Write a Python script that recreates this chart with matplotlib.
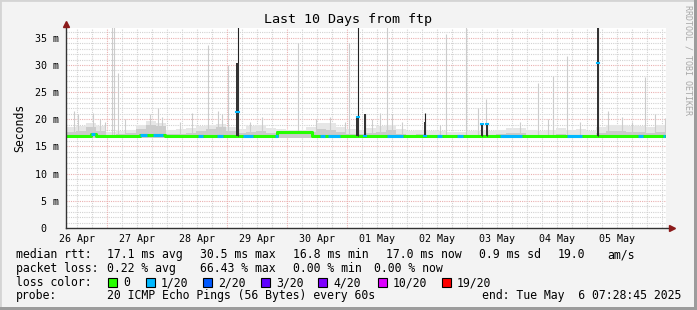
import matplotlib
matplotlib.use('Agg')
import matplotlib.pyplot as plt
from matplotlib.patches import Rectangle
import numpy as np
from datetime import datetime, timedelta

end_time = datetime(2025, 5, 6, 7, 28, 45)
start_time = end_time - timedelta(days=10)
total_h = 240

# median rtt in ms, step changes (hours since start)
med_t = [0, 10.0, 12.0, 29.6, 39.6, 84.4, 98.4, 240]
med_v = [16.9, 17.3, 16.9, 17.2, 16.9, 17.7, 16.9, 16.9]

# periods with 1/20 loss (hours since start)
loss_start = [10.0, 29.6, 34.8, 52.8, 60.4, 70.8, 83.6, 101.6, 104.8, 128.4,
              148.4, 156.4, 173.6, 200.4, 228.8, 238.8]
loss_end = [11.6, 32.4, 38.8, 54.8, 62.8, 74.8, 84.8, 103.6, 109.6, 134.8,
            150.4, 158.8, 182.4, 206.4, 230.8, 239.6]

# smoke envelope, 4 hour bins (ms)
smoke_bin = 4
smoke_hi = [18.6, 18.8, 19.3, 18.8, 17.6, 17.8, 18.0, 19.0, 19.6, 19.4,
            18.0, 18.2, 18.4, 18.8, 19.0, 19.2, 18.6, 18.2, 18.8, 19.0,
            18.4, 18.2, 18.0, 18.0, 18.6, 19.4, 19.3, 18.6, 18.2, 18.0,
            18.4, 18.8, 19.0, 18.2, 17.8, 18.0, 17.8, 17.8, 17.6, 17.6,
            17.8, 17.8, 17.8, 18.0, 18.4, 18.4, 18.0, 17.8, 18.0, 18.4,
            18.0, 18.2, 17.8, 18.6, 19.0, 19.0, 18.8, 18.8, 18.6, 19.0]
smoke_mid = [17.6, 17.8, 18.6, 17.8, 17.2, 17.3, 17.4, 18.3, 19.0, 18.8,
             17.3, 17.3, 17.5, 17.8, 18.2, 18.6, 17.8, 17.4, 17.6, 17.8,
             17.4, 17.9, 17.8, 17.8, 17.6, 18.2, 18.0, 17.6, 17.3, 17.3,
             17.4, 17.6, 18.0, 17.3, 17.2, 17.3, 17.2, 17.2, 17.1, 17.1,
             17.2, 17.2, 17.2, 17.3, 17.4, 17.4, 17.2, 17.2, 17.2, 17.3,
             17.2, 17.2, 17.2, 17.4, 17.8, 17.8, 17.6, 17.6, 17.5, 17.6]

# single slow pings (hours, ms)
spike_t = [3.2, 4.8, 10.8, 13.6, 15.6, 18.4, 19.2, 20.8, 23.6, 33.6, 36.8, 38.4,
           45.6, 50.4, 56.8, 60.8, 62.4, 64.8, 73.6, 78.4, 92.8, 100.0, 105.6,
           111.6, 113.2, 122.4, 125.6, 128.4, 130.4, 134.4, 149.6, 152.0, 160.0,
           164.8, 168.0, 181.6, 188.8, 192.8, 194.8, 200.4, 205.6, 216.8, 222.4,
           226.4, 231.6, 235.6, 239.6]
spike_top = [21.6, 21.0, 21.2, 20.0, 19.5, 40, 40, 28.6, 20.0, 21.0, 22.0, 20.5,
             19.5, 21.2, 33.6, 21.6, 21.0, 30.0, 19.5, 20.5, 34.1, 20.0, 20.5,
             19.5, 34.1, 20.0, 21.1, 40, 21.0, 19.5, 19.0, 35.7, 40,
             22.0, 23.8, 19.5, 26.6, 20.0, 28.0, 31.7, 19.5, 21.6, 20.5,
             19.5, 27.7, 21.0, 20.3]

# loss bursts: dark bars
burst_t = [68.6, 116.6, 119.6, 143.6, 166.4, 168.4, 212.8]
burst_top = [40, 40, 21.0, 21.2, 19.2, 19.2, 40]
burst_dense = [30.3, 20.7, 21.0, 19.5, 19.2, 19.2, 40]
burst_med = [21.4, 20.4, 17.0, 17.0, 19.2, 19.2, 30.4]

loss_labels = ['0', '1/20', '2/20', '3/20', '4/20', '10/20', '19/20']
loss_colors = ['#26ff00', '#00b8ff', '#0059ff', '#5e00ff', '#7e00ff', '#dd00ff', '#ff0000']

W, H = 697, 310
mono = 'DejaVu Sans Mono'
fig = plt.figure(figsize=(W / 100, H / 100), dpi=100)
fig.patch.set_facecolor('#f3f3f3')


def fx(x):
    return x / W


def fy(y):
    return 1 - y / H


# frame
fig.patches.append(Rectangle((0, 0), 1, 1, transform=fig.transFigure, fill=False,
                             ec='#d4d4d4', lw=2, zorder=0))
fig.patches.append(Rectangle((fx(694), 0), fx(3), 1, transform=fig.transFigure,
                             fc='#9c9c9c', ec='none'))
fig.patches.append(Rectangle((0, 0), 1, 3 / H, transform=fig.transFigure,
                             fc='#9c9c9c', ec='none'))

ax = fig.add_axes([fx(66), fy(228), fx(600), 200 / H])
ax.set_facecolor('white')
ymax = 36.8
ax.set_xlim(0, total_h)
ax.set_ylim(0, ymax)

dot = (0, (1, 1))
minor_c = '#d2d2d2'
major_c = '#eab0b0'

# horizontal grid
for v in range(1, 37):
    c = major_c if v % 5 == 0 else minor_c
    ax.axhline(v, color=c, lw=0.8, ls=dot, zorder=1)

# vertical grid
first_mid = datetime(start_time.year, start_time.month, start_time.day) + timedelta(days=1)
mid_h = (first_mid - start_time).total_seconds() / 3600
g = mid_h - 12
while g < total_h:
    if g > 0:
        c = major_c if abs((g - mid_h) % 24) < 1e-6 else minor_c
        ax.axvline(g, color=c, lw=0.8, ls=dot, zorder=1)
    g += 6

# smoke
edges = np.arange(len(smoke_hi) + 1) * smoke_bin
ax.fill_between(edges, 16.6, smoke_hi + [smoke_hi[-1]], step='post',
                color='#e6e6e6', lw=0, zorder=2)
ax.fill_between(edges, 16.6, smoke_mid + [smoke_mid[-1]], step='post',
                color='#cbcbcb', lw=0, zorder=2)
ax.vlines(spike_t, 16.9, spike_top, color='#cccccc', lw=0.8, zorder=2)

# median line
ax.step(med_t, med_v, where='post', color=loss_colors[0], lw=2.2, zorder=4)


def med_at(t):
    i = np.searchsorted(med_t, t, side='right') - 1
    return med_v[max(i, 0)]


for s, e in zip(loss_start, loss_end):
    v = med_at(s)
    ax.plot([s, e], [v, v], color=loss_colors[1], lw=2.2, solid_capstyle='butt', zorder=5)

# bursts
ax.vlines(burst_t, 16.9, burst_top, color='#222222', lw=0.8, zorder=6)
ax.bar(burst_t, np.array(burst_dense) - 16.9, bottom=16.9, width=1.0,
       color='#333333', zorder=6)
for t, m in zip(burst_t, burst_med):
    ax.plot([t - 0.4, t + 0.4], [m, m], color=loss_colors[1], lw=1.5, zorder=7)

# axes lines and arrows
for s in ax.spines.values():
    s.set_visible(False)
ax.plot([0, 0], [0, 1.015], transform=ax.transAxes, color='#333333', lw=1, clip_on=False, zorder=8)
ax.plot([0, 1.008], [0, 0], transform=ax.transAxes, color='#333333', lw=1, clip_on=False, zorder=8)
ax.plot([0], [1.02], marker='^', ms=5, color='#8b1a1a', transform=ax.transAxes, clip_on=False, zorder=9)
ax.plot([1.01], [0], marker='>', ms=5, color='#8b1a1a', transform=ax.transAxes, clip_on=False, zorder=9)

# ticks
yt = list(range(0, 36, 5))
ax.set_yticks(yt)
ax.set_yticklabels(['0  '] + ['%d m' % v for v in yt[1:]], fontfamily=mono, fontsize=7.2)
noon_h = [mid_h - 12 + 24 * k for k in range(10)]
ax.set_xticks(noon_h)
ax.set_xticklabels([(start_time + timedelta(hours=h)).strftime('%d %b') for h in noon_h],
                   fontfamily=mono, fontsize=7.2)
ax.tick_params(axis='y', length=0, pad=5)
ax.tick_params(axis='x', length=0, pad=4)
ax.set_ylabel('Seconds', fontfamily=mono, fontsize=8.3, labelpad=6)

# title and watermark
fig.text(0.5, fy(19), 'Last 10 Days from ftp', ha='center', va='center',
         fontfamily=mono, fontsize=9.6)
fig.text(fx(688), fy(5), 'RRDTOOL / TOBI OETIKER', rotation=-90, ha='center', va='top',
         fontfamily=mono, fontsize=6, color='#a8a8a8')

# legend
fs = 8.3
row1 = [('median rtt:', 16), ('17.1 ms avg', 107), ('30.5 ms max', 200), ('16.8 ms min', 293),
        ('17.0 ms now', 386), ('0.9 ms sd', 479), ('19.0', 558), ('am/s', 607)]
row2 = [('packet loss:', 16), ('0.22 % avg', 107), ('66.43 % max', 200), ('0.00 % min', 293),
        ('0.00 % now', 374)]
row4 = [('probe:', 16), ('20 ICMP Echo Pings (56 Bytes) every 60s', 107)]
for row, y in ((row1, 254.5), (row2, 268.5), (row4, 296)):
    for txt, x in row:
        fig.text(fx(x), fy(y), txt, ha='left', va='center', fontfamily=mono, fontsize=fs)
fig.text(fx(681), fy(296), 'end: Tue May  6 07:28:45 2025', ha='right', va='center',
         fontfamily=mono, fontsize=fs)
fig.text(fx(16), fy(282.5), 'loss color:', ha='left', va='center', fontfamily=mono, fontsize=fs)
box_x = [108, 146, 203, 261, 318, 378, 442]
for bx, lab, col in zip(box_x, loss_labels, loss_colors):
    fig.patches.append(Rectangle((fx(bx), fy(287)), fx(9), 9 / H, transform=fig.transFigure,
                                 fc=col, ec='black', lw=0.8))
    fig.text(fx(bx + 15), fy(282.5), lab, ha='left', va='center', fontfamily=mono, fontsize=fs)

fig.savefig('out.png', dpi=100, facecolor=fig.get_facecolor())
